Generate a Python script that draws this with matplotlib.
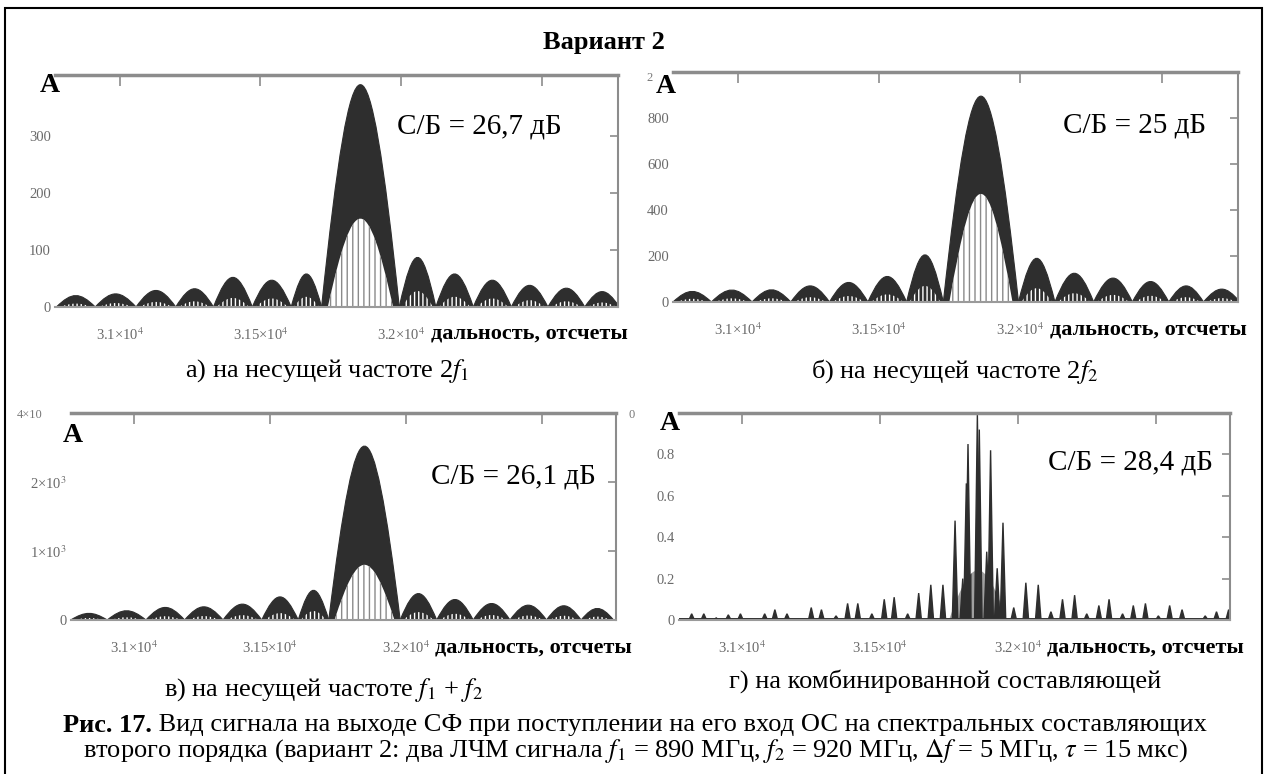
import matplotlib
matplotlib.use('Agg')
import matplotlib.pyplot as plt
from matplotlib.path import Path
from matplotlib.patches import PathPatch, Rectangle
from matplotlib.transforms import offset_copy

plt.rcParams['font.family'] = ['Liberation Serif', 'DejaVu Serif']
plt.rcParams['mathtext.fontset'] = 'stix'
plt.rcParams['hatch.linewidth'] = 1.0

# границы лепестков (нули огибающей), отсчеты
a_nulls = [30775, 30913, 31058, 31199, 31333, 31471, 31609, 31717, 31993, 32123, 32256, 32391, 32521, 32652, 32775]
a_peaks = [20, 23, 29, 32, 52, 47, 58, 390, 87, 58, 47, 38, 33, 27]
a_inner = [6, 7, 9, 10, 16, 15, 18, 155, 28, 18, 15, 12, 10, 8]

b_nulls = [30770, 30906, 31050, 31187, 31324, 31460, 31597, 31727, 31993, 32122, 32259, 32396, 32525, 32648, 32777]
b_peaks = [46, 52, 53, 70, 85, 111, 205, 895, 190, 125, 104, 89, 70, 56]
b_inner = [14, 16, 16, 21, 26, 33, 70, 470, 60, 38, 31, 27, 21, 17]

c_nulls = [30769, 30903, 31045, 31187, 31328, 31470, 31604, 31716, 31978, 32112, 32246, 32381, 32515, 32642, 32761]
c_peaks = [96, 134, 182, 191, 230, 335, 430, 2520, 383, 297, 239, 215, 206, 167]
c_inner = [30, 40, 55, 57, 70, 100, 130, 800, 115, 90, 72, 65, 62, 50]

# комбинированная составляющая: положения и амплитуды пиков
d_pos = [30816, 30860, 30905, 30949, 30993, 31081, 31118, 31162, 31250, 31287, 31340, 31382, 31419,
         31470, 31515, 31551, 31600, 31640, 31684, 31728, 31772, 31800, 31813, 31819, 31853, 31860,
         31887, 31901, 31925, 31946, 31985, 32029, 32074, 32120, 32162, 32206, 32250, 32294, 32331,
         32380, 32419, 32463, 32510, 32551, 32596, 32680, 32721, 32765]
d_amp = [0.03, 0.03, 0.01, 0.025, 0.03, 0.03, 0.05, 0.03, 0.06, 0.05, 0.02, 0.08, 0.08,
         0.03, 0.10, 0.11, 0.03, 0.13, 0.17, 0.17, 0.48, 0.20, 0.66, 0.85, 0.99, 0.92,
         0.33, 0.82, 0.25, 0.47, 0.06, 0.18, 0.17, 0.04, 0.10, 0.12, 0.03, 0.07, 0.10,
         0.03, 0.07, 0.08, 0.02, 0.07, 0.05, 0.02, 0.04, 0.05]
d_base = [31750, 31960]
d_base_h = 0.24

x_range = [30770, 32770]
x_ticks = [31000, 31500, 32000, 32500]
x_labels = ['3.1×10$^4$', '3.15×10$^4$', '3.2×10$^4$', '']

snr = ['С/Б = 26,7 дБ', 'С/Б = 25 дБ', 'С/Б = 26,1 дБ', 'С/Б = 28,4 дБ']
snr_pos = [(31985, 317), (32150, 767), (32090, 2080), (32110, 0.76)]
xlab_start = 32105
captions = ['а) на несущей частоте 2$f_1$', 'б) на несущей частоте 2$f_2$',
            'в) на несущей частоте $f_1$ + $f_2$', 'г) на комбинированной составляющей']

W, H = 1266, 774
DARK = '#2e2e2e'
GRID = '#8c8c8c'


def fx(px):
    return px / W


def fy(py):
    return 1 - py / H


def arch(ax, left, right, h, **kw):
    w = right - left
    verts = [(left, 0), (left + 0.4 * w, h * 4 / 3), (right - 0.4 * w, h * 4 / 3), (right, 0), (left, 0)]
    codes = [Path.MOVETO, Path.CURVE4, Path.CURVE4, Path.CURVE4, Path.CLOSEPOLY]
    ax.add_patch(PathPatch(Path(verts, codes), **kw))


def lobes(ax, nulls, peaks, inner):
    for i in range(len(peaks)):
        arch(ax, nulls[i], nulls[i + 1], peaks[i], facecolor=DARK, edgecolor=DARK, lw=0.8)
    for i in range(len(peaks)):
        L, R = nulls[i], nulls[i + 1]
        m = (R - L) * 0.08
        if peaks[i] == max(peaks):
            arch(ax, L + m, R - m, inner[i], facecolor='white', edgecolor='#8a8a8a', hatch='|||', lw=0)
        else:
            arch(ax, L + m, R - m, inner[i], facecolor=DARK, edgecolor='white', hatch='||||', lw=0)


def style(ax, ylim, yticks, ylabels):
    ax.set_xlim(x_range)
    ax.set_ylim(ylim)
    ax.set_xticks(x_ticks)
    ax.set_xticklabels(x_labels)
    ax.set_yticks(yticks)
    ax.set_yticklabels(ylabels)
    ax.spines['left'].set_visible(False)
    ax.spines['top'].set_color(GRID)
    ax.spines['top'].set_linewidth(2.5)
    ax.spines['right'].set_color(GRID)
    ax.spines['right'].set_linewidth(1.5)
    ax.spines['bottom'].set_color('#9a9a9a')
    ax.spines['bottom'].set_linewidth(1.5)
    ax.tick_params(axis='x', direction='in', top=True, bottom=False, labelbottom=True,
                   length=8, width=1.2, color=GRID, labelcolor='#6a6a6a', labelsize=10.5, pad=14)
    ax.tick_params(axis='y', direction='in', left=False, right=True, labelleft=True,
                   length=6, width=1.2, color=GRID, labelcolor='#6a6a6a', labelsize=10.5, pad=3)


fig = plt.figure(figsize=(12.66, 7.74), dpi=100)

ax_a = fig.add_axes([fx(55), fy(307), fx(618) - fx(55), fy(75) - fy(307)])
ax_b = fig.add_axes([fx(673), fy(302), fx(1238) - fx(673), fy(72) - fy(302)])
ax_c = fig.add_axes([fx(71), fy(620), fx(616) - fx(71), fy(413) - fy(620)])
ax_d = fig.add_axes([fx(679), fy(620), fx(1230) - fx(679), fy(413) - fy(620)])

lobes(ax_a, a_nulls, a_peaks, a_inner)
lobes(ax_b, b_nulls, b_peaks, b_inner)
lobes(ax_c, c_nulls, c_peaks, c_inner)

# г) пики
ax_d.axhline(0.004, color=DARK, lw=1.4)
arch(ax_d, d_base[0], d_base[1], d_base_h, facecolor='#a0a0a0', edgecolor=DARK, hatch='||', lw=0)
for p, h in zip(d_pos, d_amp):
    ax_d.fill([p - 10, p, p + 10], [0, h, 0], facecolor=DARK, edgecolor=DARK, lw=1.0)

style(ax_a, (0, 407), [0, 100, 200, 300], ['0', '100', '200', '300'])
style(ax_b, (0, 1000), [0, 200, 400, 600, 800], ['0', '200', '400', '600', '800'])
style(ax_c, (0, 3000), [0, 1000, 2000], ['0', '1×10$^3$', '2×10$^3$'])
style(ax_d, (0, 1.0), [0, 0.2, 0.4, 0.6, 0.8], ['0', '0.2', '0.4', '0.6', '0.8'])

axes = [ax_a, ax_b, ax_c, ax_d]
a_off = [(-0.01, 1.01), (-0.012, 0.99), (0.004, 0.95), (-0.016, 1.01)]
for ax, s, pos, off in zip(axes, snr, snr_pos, a_off):
    ax.text(pos[0], pos[1], s, fontsize=21, va='center', ha='left')
    tr = offset_copy(ax.get_xaxis_transform(), fig=fig, x=0, y=-27, units='dots')
    ax.text(xlab_start, 0, 'дальность, отсчеты', transform=tr,
            fontsize=16, fontweight='bold', va='center', ha='left', clip_on=False)
    ax.text(off[0], off[1], 'A', transform=ax.transAxes, fontsize=20, fontweight='bold',
            ha='center', va='top', clip_on=False)

# обрезанные подписи Mathcad
fig.text(fx(650), fy(78), '2', fontsize=9, color='#777', ha='center', va='center')
fig.text(fx(30), fy(415), '4×10', fontsize=9, color='#777', ha='center', va='center')
fig.text(fx(632), fy(415), '0', fontsize=9, color='#777', ha='center', va='center')

fig.text(fx(604), fy(43), 'Вариант 2', fontsize=19, fontweight='bold', ha='center', va='center')

fig.text(fx(327), fy(371), captions[0], fontsize=19, ha='center', va='center')
fig.text(fx(955), fy(371), captions[1], fontsize=19, ha='center', va='center')
fig.text(fx(323), fy(690), captions[2], fontsize=19, ha='center', va='center')
fig.text(fx(945), fy(681), captions[3], fontsize=19, ha='center', va='center')

# подпись рисунка
renderer = fig.canvas.get_renderer()
t1 = fig.text(0, fy(725), 'Рис. 17.', fontsize=19, fontweight='bold', ha='left', va='center')
t2 = fig.text(0, fy(725), ' Вид сигнала на выходе СФ при поступлении на его вход ОС на спектральных составляющих',
              fontsize=19, ha='left', va='center')
w1 = t1.get_window_extent(renderer).width
w2 = t2.get_window_extent(renderer).width
x0 = 635 - (w1 + w2) / 2
t1.set_x(fx(x0))
t2.set_x(fx(x0 + w1))
fig.text(fx(635), fy(751), 'второго порядка (вариант 2: два ЛЧМ сигнала $f_1$ = 890 МГц, $f_2$ = 920 МГц, '
         '$\\Delta f$ = 5 МГц, $\\tau$ = 15 мкс)', fontsize=19, ha='center', va='center')

fig.add_artist(Rectangle((fx(5), -0.01), fx(1262) - fx(5), fy(8) + 0.01, transform=fig.transFigure,
                         fill=False, edgecolor='black', lw=1.5))

fig.savefig('out.png', dpi=100)
